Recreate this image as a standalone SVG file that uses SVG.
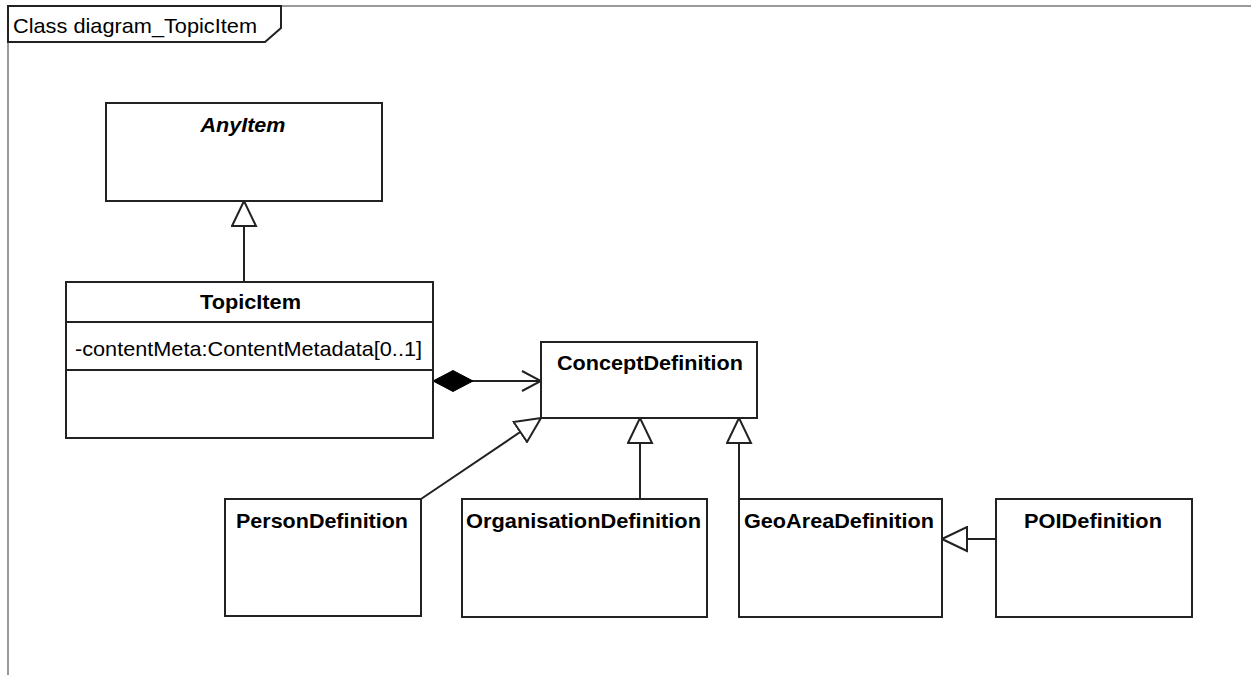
<svg xmlns="http://www.w3.org/2000/svg" width="1251" height="675" viewBox="0 0 1251 675">
  <style>
    .box { fill: #ffffff; stroke: #222222; stroke-width: 2; }
    .sep { stroke: #222222; stroke-width: 2; fill: none; }
    .edge { stroke: #222222; stroke-width: 2; fill: none; }
    .name { font-family: "Liberation Sans", Arial, sans-serif; font-size: 21px; font-weight: bold; fill: #000000; text-anchor: middle; }
    .abstract { font-style: italic; }
    .attr { font-family: "Liberation Sans", Arial, sans-serif; font-size: 21px; fill: #000000; }
    .frame { stroke: #9a9a9a; stroke-width: 2; fill: none; }
    .tab { fill: #ffffff; stroke: #222222; stroke-width: 2; }
  </style>
  <defs>
    <!-- hollow triangle: generalization -->
    <marker id="gen" viewBox="0 0 27 27" markerWidth="27" markerHeight="27" refX="26" refY="13.5" orient="auto" markerUnits="userSpaceOnUse">
      <path d="M1,1.5 L26,13.5 L1,25.5 Z" fill="#ffffff" stroke="#222222" stroke-width="2"/>
    </marker>
    <!-- filled diamond: composition -->
    <marker id="comp" viewBox="0 0 42 24" markerWidth="42" markerHeight="24" refX="1" refY="12" orient="auto" markerUnits="userSpaceOnUse">
      <path d="M1,12 L21,1.5 L41,12 L21,22.5 Z" fill="#000000" stroke="#000000" stroke-width="1"/>
    </marker>
    <!-- open arrow: navigability -->
    <marker id="open" viewBox="0 0 22 24" markerWidth="22" markerHeight="24" refX="21" refY="12" orient="auto" markerUnits="userSpaceOnUse">
      <path d="M2,2 L21,12 L2,22" fill="none" stroke="#222222" stroke-width="2"/>
    </marker>
  </defs>

  <rect width="1251" height="675" fill="#ffffff"/>

  <!-- diagram frame -->
  <g id="frame">
    <path class="frame" d="M8,6 H1251 M8,6 V675"/>
    <path class="tab" d="M8,6 H281 V28 L265,42 H8 Z"/>
    <text class="attr" x="13" y="33" textLength="244" lengthAdjust="spacingAndGlyphs">Class diagram_TopicItem</text>
  </g>

  <!-- connectors -->
  <g id="connectors">
    <line class="edge" x1="244" y1="282" x2="244" y2="201" marker-end="url(#gen)"/>
    <line class="edge" x1="433" y1="381" x2="541" y2="381" marker-start="url(#comp)" marker-end="url(#open)"/>
    <line class="edge" x1="421" y1="499" x2="541" y2="418" marker-end="url(#gen)"/>
    <line class="edge" x1="640" y1="499" x2="640" y2="418" marker-end="url(#gen)"/>
    <line class="edge" x1="739" y1="499" x2="739" y2="418" marker-end="url(#gen)"/>
    <line class="edge" x1="996" y1="539" x2="942" y2="539" marker-end="url(#gen)"/>
  </g>

  <g id="AnyItem">
    <rect class="box" x="106" y="103" width="276" height="98"/>
    <text class="name abstract" x="243" y="132" textLength="85" lengthAdjust="spacingAndGlyphs">AnyItem</text>
  </g>

  <g id="TopicItem">
    <rect class="box" x="66" y="282" width="367" height="156"/>
    <line class="sep" x1="66" y1="322" x2="433" y2="322"/>
    <line class="sep" x1="66" y1="370" x2="433" y2="370"/>
    <text class="name" x="250.5" y="309" textLength="101" lengthAdjust="spacingAndGlyphs">TopicItem</text>
    <text class="attr" x="75" y="356" textLength="347" lengthAdjust="spacingAndGlyphs">-contentMeta:ContentMetadata[0..1]</text>
  </g>

  <g id="ConceptDefinition">
    <rect class="box" x="541" y="342" width="216" height="76"/>
    <text class="name" x="650" y="370" textLength="186" lengthAdjust="spacingAndGlyphs">ConceptDefinition</text>
  </g>

  <g id="PersonDefinition">
    <rect class="box" x="225" y="499" width="196" height="117"/>
    <text class="name" x="322" y="528" textLength="172" lengthAdjust="spacingAndGlyphs">PersonDefinition</text>
  </g>

  <g id="OrganisationDefinition">
    <rect class="box" x="462" y="499" width="245" height="118"/>
    <text class="name" x="583.5" y="528" textLength="235" lengthAdjust="spacingAndGlyphs">OrganisationDefinition</text>
  </g>

  <g id="GeoAreaDefinition">
    <rect class="box" x="739" y="499" width="203" height="118"/>
    <text class="name" x="839" y="528" textLength="190" lengthAdjust="spacingAndGlyphs">GeoAreaDefinition</text>
  </g>

  <g id="POIDefinition">
    <rect class="box" x="996" y="499" width="196" height="118"/>
    <text class="name" x="1093" y="528" textLength="138" lengthAdjust="spacingAndGlyphs">POIDefinition</text>
  </g>
</svg>
